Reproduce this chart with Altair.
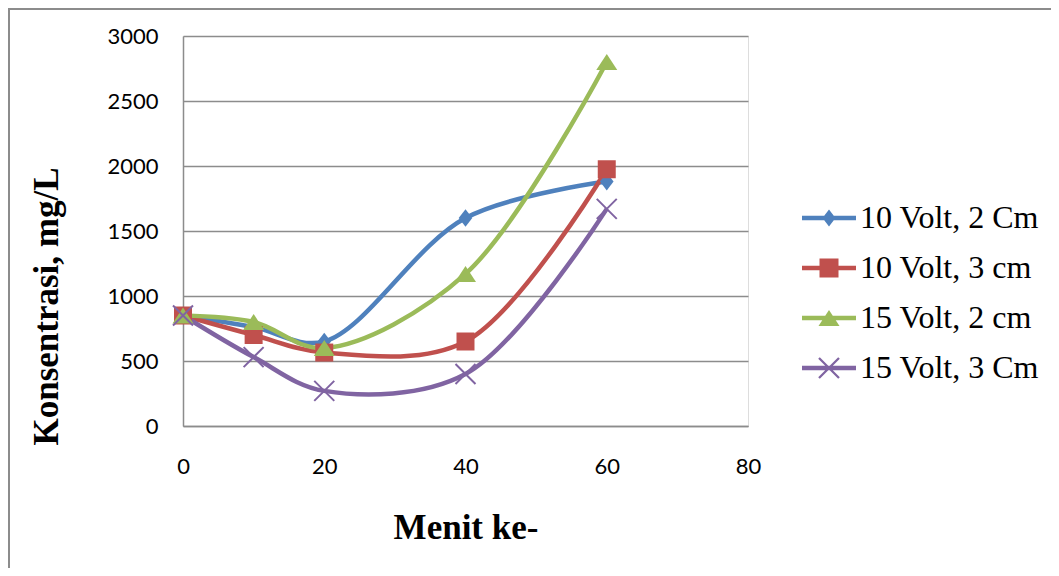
import altair as alt
import pandas as pd

# ---- data ----
minutes = [0, 10, 20, 40, 60]
series_names = ["10 Volt, 2 Cm", "10 Volt, 3 cm", "15 Volt, 2 cm", "15 Volt, 3 Cm"]
v_10v_2cm = [850, 760, 650, 1600, 1880]
v_10v_3cm = [850, 700, 565, 650, 1975]
v_15v_2cm = [850, 800, 600, 1170, 2800]
v_15v_3cm = [850, 530, 270, 400, 1670]
x_ticks = [0, 20, 40, 60, 80]
y_ticks = [0, 500, 1000, 1500, 2000, 2500, 3000]

colors = ["#4F81BD", "#C0504D", "#9BBB59", "#8064A2"]

all_values = [v_10v_2cm, v_10v_3cm, v_15v_2cm, v_15v_3cm]
rows = []
for name, vals in zip(series_names, all_values):
    for m, v in zip(minutes, vals):
        rows.append({"series": name, "menit": m, "konsentrasi": v})
df = pd.DataFrame(rows)

# marker shapes (unit space, scaled by sqrt(size)/2)
chart_markers = [
    ("M0,-1.1L0.85,0L0,1.1L-0.85,0Z", 256, True),
    ("M-1,-1L1,-1L1,1L-1,1Z", 324, True),
    ("M0,-0.8L1.05,0.8L-1.05,0.8Z", 400, True),
    ("M-1,-1L1,1M-1,1L1,-1", 400, False),
]

bar = "M-2.7,-0.22L2.7,-0.22L2.7,0.22L-2.7,0.22Z"
legend_paths = [
    bar + "M0,-0.85L0.65,0L0,0.85L-0.65,0Z",
    bar + "M-0.95,-0.95L0.95,-0.95L0.95,0.95L-0.95,0.95Z",
    bar + "M0,-0.8L1.05,0.8L-1.05,0.8Z",
    bar + "M-0.92,-1.08L1.08,0.92L0.92,1.08L-1.08,-0.92Z"
        + "M-0.92,1.08L-1.08,0.92L0.92,-1.08L1.08,-0.92Z",
]

W, H = 565, 390
color_scale = alt.Scale(domain=series_names, range=colors)
x_enc = alt.X(
    "menit:Q",
    scale=alt.Scale(domain=[0, 80], nice=False),
    axis=alt.Axis(
        values=x_ticks, grid=False, ticks=False, tickSize=0, labelFlush=False,
        labelFont="Lato", labelFontSize=22, labelColor="#000000", labelPadding=30,
        domainColor="#8c8c8c", domainWidth=1.5, format="d",
        title="Menit ke-", titleFont="Liberation Serif", titleFontSize=35,
        titleFontWeight="bold", titleColor="#000000",
        titleBaseline="alphabetic", titleAlign="center", titleX=W / 2, titleY=112,
    ),
)
y_enc = alt.Y(
    "konsentrasi:Q",
    scale=alt.Scale(domain=[0, 3000], nice=False),
    axis=alt.Axis(
        values=y_ticks, grid=True, gridColor="#8c8c8c", gridWidth=1.5,
        ticks=False, tickSize=0, labelFlush=False, format="d",
        labelFont="Lato", labelFontSize=22, labelColor="#000000", labelPadding=25,
        domainColor="#8c8c8c", domainWidth=1.5,
        title="Konsentrasi, mg/L", titleFont="Liberation Serif", titleFontSize=35,
        titleFontWeight="bold", titleColor="#000000", titleAngle=270,
        titleBaseline="alphabetic", titleAlign="center", titleX=-126, titleY=270,
    ),
)

base = alt.Chart(df)

legend_props = dict(
    title=None, orient="none", legendX=630, legendY=166,
    symbolSize=400, symbolStrokeWidth=0, symbolOpacity=1,
    labelFont="Liberation Serif", labelFontSize=32, labelColor="#000000",
    labelOffset=15, rowPadding=18, padding=0, labelLimit=400,
)
legend_layer = base.mark_point(filled=True, opacity=1, size=400).encode(
    x=x_enc, y=y_enc,
    color=alt.Color("series:N", scale=color_scale, legend=alt.Legend(**legend_props)),
    shape=alt.Shape("series:N", scale=alt.Scale(domain=series_names, range=legend_paths),
                    legend=alt.Legend(**legend_props)),
).transform_filter("false")

frame = alt.Chart(pd.DataFrame({"f": [0]})).mark_rect(
    filled=False, stroke="#8c8c8c", strokeWidth=2
).encode(
    x=alt.value(-174), x2=alt.value(1200), y=alt.value(-27), y2=alt.value(900)
)

lines = base.mark_line(interpolate="catmull-rom", strokeWidth=4.5).encode(
    x=x_enc, y=y_enc,
    color=alt.Color("series:N", scale=color_scale),
)

marker_layers = []
for name, c, (path, size, filled) in zip(series_names, colors, chart_markers):
    if filled:
        mk = alt.Chart(df).mark_point(shape=path, size=size, filled=True, fill=c,
                                      strokeWidth=0, opacity=1)
    else:
        mk = alt.Chart(df).mark_point(shape=path, size=size, filled=False, stroke=c,
                                      strokeWidth=2, opacity=1)
    marker_layers.append(
        mk.encode(x="menit:Q", y="konsentrasi:Q").transform_filter(
            alt.datum.series == name
        )
    )

chart = alt.layer(legend_layer, frame, lines, *marker_layers).properties(
    width=W, height=H,
    autosize=alt.AutoSizeParams(type="none"),
    padding={"left": 175, "top": 28, "right": 303, "bottom": 142},
).configure_view(stroke=None).configure(background="#ffffff")

chart.save("out.html", embed_options={"renderer": "svg", "actions": False})
